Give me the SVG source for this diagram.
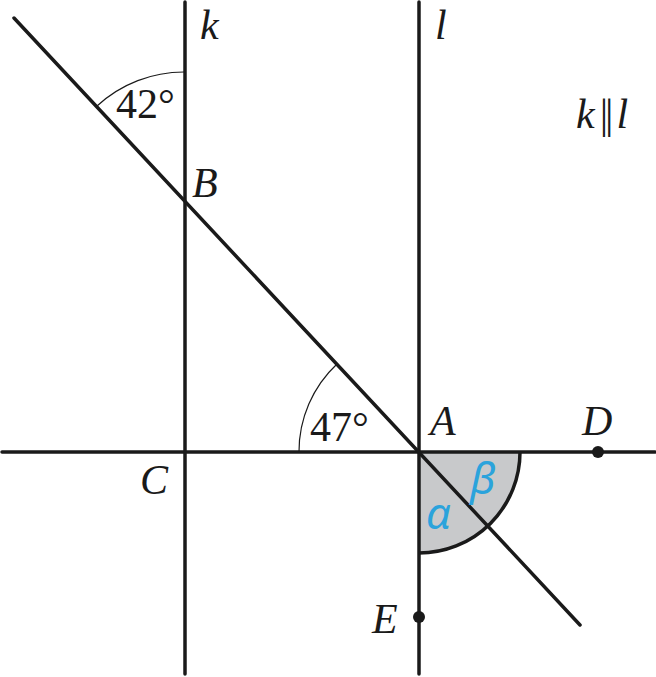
<svg xmlns="http://www.w3.org/2000/svg" width="656" height="677" viewBox="0 0 656 677">
<style>
.ln{stroke:#1a1a1a;stroke-width:3.5;fill:none;stroke-linecap:round}
.arc{stroke:#1a1a1a;stroke-width:1.2;fill:none}
.t{font-family:"Liberation Serif",serif;font-style:italic;font-size:42px;fill:#1a1a1a}
.n{font-family:"Liberation Serif",serif;font-size:42px;fill:#1a1a1a}
.u{font-style:normal;letter-spacing:-3px}
.g{font-family:"Noto Sans","DejaVu Sans",sans-serif;font-style:italic;font-size:44px;fill:#2ba3dc}
</style>
<g id="shaded-angle">
<path d="M419,452 L520,452 A101,101 0 0 1 419,553 Z" fill="#c8c9cb" stroke="none"/>
<path d="M520,452 A101,101 0 0 1 419,553" fill="none" stroke="#1a1a1a" stroke-width="3.5"/>
</g>
<g id="lines">
<line class="ln" x1="185" y1="2" x2="185" y2="674"/>
<line class="ln" x1="419" y1="2" x2="419" y2="674"/>
<line class="ln" x1="2" y1="452" x2="655" y2="452"/>
<line class="ln" x1="14" y1="18" x2="580" y2="625"/>
</g>
<g id="angle-arcs">
<path class="arc" d="M185,72 A128,128 0 0 0 97,106"/>
<path class="arc" d="M299,452 A120,120 0 0 1 337,364"/>
</g>
<g id="points">
<circle cx="598" cy="452" r="6" fill="#1a1a1a"/>
<circle cx="419" cy="617" r="6" fill="#1a1a1a"/>
</g>
<g id="labels">
<text class="t" x="200" y="39">k</text>
<text class="t" x="435" y="39">l</text>
<text class="t" x="576" y="128">k<tspan class="u" dx="5">||</tspan><tspan dx="6">l</tspan></text>
<text class="n" x="116" y="118">42°</text>
<text class="t" x="192" y="197">B</text>
<text class="n" x="310" y="441">47°</text>
<text class="t" x="430" y="435">A</text>
<text class="t" x="582" y="435">D</text>
<text class="t" x="140" y="494">C</text>
<text class="t" x="372" y="633">E</text>
<text class="g" x="426" y="529">α</text>
<text class="g" x="470" y="494">β</text>
</g>
</svg>
